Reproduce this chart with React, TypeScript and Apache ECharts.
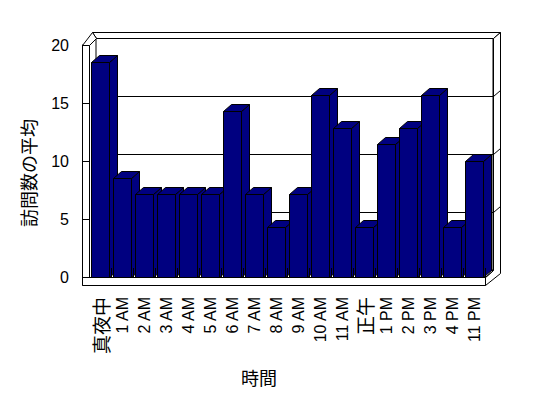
import React, { useEffect, useRef } from 'react';
import * as echarts from 'echarts';

const categories = ['真夜中', '1 AM', '2 AM', '3 AM', '4 AM', '5 AM', '6 AM', '7 AM', '8 AM', '9 AM', '10 AM', '11 AM', '正午', '1 PM', '2 PM', '3 PM', '4 PM', '11 PM'];
const visits = [18.57, 8.57, 7.14, 7.14, 7.14, 7.14, 14.29, 7.14, 4.29, 7.14, 15.71, 12.86, 4.29, 11.43, 12.86, 15.71, 4.29, 10];
const yTicks = [0, 5, 10, 15, 20];
const xTitle = '時間';
const yTitle = '訪問数の平均';

const FONT = "'Liberation Sans', Arial, 'Noto Sans CJK JP', sans-serif";
const CJK = "'Noto Sans CJK JP', sans-serif";
const NAVY = '#000080';
const DX = 8;
const DY = -7;

export default function App() {
  const ref = useRef<HTMLDivElement>(null);
  useEffect(() => {
    document.body.style.margin = '0';
    const chart = echarts.init(ref.current!, null, { renderer: 'svg' });
    const option: any = {
      animation: false,
      backgroundColor: '#fff',
      grid: [
        { left: 89, right: 63, top: 45, bottom: 121 },
        { left: 96, right: 55, top: 38, bottom: 128, show: true, backgroundColor: 'transparent', borderColor: '#000', borderWidth: 1 },
      ],
      xAxis: [
        {
          type: 'category', data: categories, gridIndex: 0, offset: 9, z: 10,
          axisLine: { show: true, lineStyle: { color: '#000', width: 1 } },
          axisTick: { show: true, inside: true, length: 9, lineStyle: { color: '#000' } },
          axisLabel: {
            rotate: 90, margin: 11, interval: 0, fontSize: 16, color: '#000', fontFamily: FONT,
            formatter: (v: string) => (/[^\x00-\x7F]/.test(v) ? `{cjk|${v}}` : v),
            rich: { cjk: { fontSize: 19, fontFamily: CJK, color: '#000' } },
          },
        },
        { type: 'category', data: categories, gridIndex: 1, show: false },
      ],
      yAxis: [
        {
          type: 'value', gridIndex: 0, min: 0, max: yTicks[yTicks.length - 1], interval: 5, offset: 7, z: 10,
          axisLine: { show: true, lineStyle: { color: '#000', width: 1 } },
          axisTick: { show: true, inside: true, length: 7, lineStyle: { color: '#000' } },
          splitLine: { show: false },
          axisLabel: { fontSize: 16, margin: 13, color: '#000', fontFamily: FONT },
        },
        {
          type: 'value', gridIndex: 1, min: 0, max: yTicks[yTicks.length - 1], interval: 5,
          axisLine: { show: false }, axisTick: { show: false }, axisLabel: { show: false },
          splitLine: { show: true, lineStyle: { color: '#000', width: 1 } },
        },
      ],
      series: [
        {
          type: 'custom',
          xAxisIndex: 0,
          yAxisIndex: 0,
          z: 5,
          data: visits.map((v, i) => [i, v]),
          renderItem: (params: any, api: any) => {
            const idx = api.value(0);
            const val = api.value(1);
            const top = api.coord([idx, val]);
            const base = api.coord([idx, 0]);
            const w = api.size([1, 0])[0] * 0.79;
            const x0 = Math.round(top[0] - w / 2) + 0.5;
            const x1 = Math.round(top[0] + w / 2) + 0.5;
            const yt = Math.round(top[1]) + 0.5;
            const yb = Math.round(base[1]) + 0.5;
            const st = { fill: NAVY, stroke: '#000', lineWidth: 1 };
            return {
              type: 'group',
              children: [
                { type: 'polygon', shape: { points: [[x1, yt], [x1 + DX, yt + DY], [x1 + DX, yb + DY], [x1, yb]] }, style: st },
                { type: 'polygon', shape: { points: [[x0, yt], [x1, yt], [x1 + DX, yt + DY], [x0 + DX, yt + DY]] }, style: st },
                { type: 'rect', shape: { x: x0, y: yt, width: x1 - x0, height: yb - yt }, style: st },
              ],
            };
          },
        },
      ],
    };
    chart.setOption(option);

    const ln = { stroke: '#000', lineWidth: 1 };
    const wf = { fill: '#fff', stroke: '#000', lineWidth: 1 };
    const graphic: any[] = [
      { type: 'polygon', z: 1, shape: { points: [[92.5, 32.5], [500.5, 32.5], [493.5, 38.5], [96.5, 38.5]] }, style: wf },
      { type: 'polygon', z: 1, shape: { points: [[82.5, 45.5], [92.5, 32.5], [96.5, 38.5], [89.5, 45.5]] }, style: wf },
      { type: 'rect', z: 1, shape: { x: 82.5, y: 45.5, width: 7, height: 240 }, style: wf },
      { type: 'rect', z: 1, shape: { x: 82.5, y: 277.5, width: 403, height: 8 }, style: wf },
      { type: 'polygon', z: 1, shape: { points: [[493.5, 38.5], [500.5, 32.5], [500.5, 273.5], [485.5, 285.5], [485.5, 277.5], [493.5, 270.5]] }, style: wf },
      { type: 'line', z: 1, shape: { x1: 485.5, y1: 277.5, x2: 493.5, y2: 270.5 }, style: ln },
    ];
    yTicks.slice(1, -1).forEach((t) => {
      const y = Math.round(chart.convertToPixel({ yAxisIndex: 1 }, t) as number) + 0.5;
      graphic.push({ type: 'line', z: 1, shape: { x1: 493.5, y1: y, x2: 500.5, y2: y - 6 }, style: ln });
    });
    graphic.push(
      { type: 'text', z: 1, x: 259, y: 377, style: { text: xTitle, fontSize: 18, fontFamily: CJK, fill: '#000', textAlign: 'center', textVerticalAlign: 'middle' } },
      { type: 'text', z: 1, x: 28, y: 173, rotation: Math.PI / 2, style: { text: yTitle, fontSize: 18, fontFamily: CJK, fill: '#000', textAlign: 'center', textVerticalAlign: 'middle' } },
    );
    chart.setOption({ graphic });
    return () => chart.dispose();
  }, []);
  return <div ref={ref} style={{ width: 548, height: 398 }} />;
}
